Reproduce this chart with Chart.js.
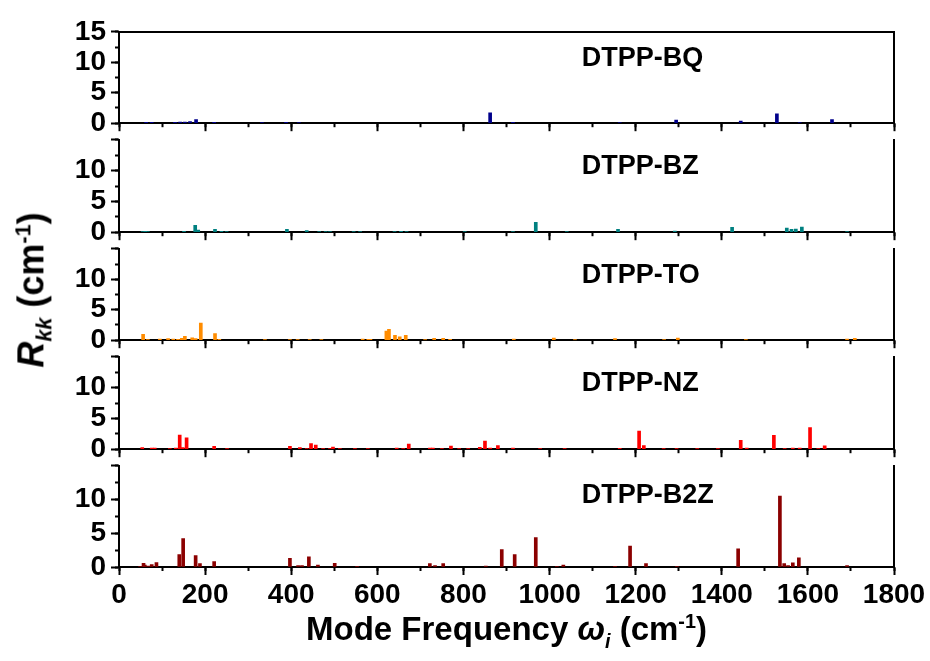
<!DOCTYPE html>
<html>
<head>
<meta charset="utf-8">
<script src="https://cdn.jsdelivr.net/npm/chart.js@4.4.1/dist/chart.umd.min.js"></script>
<style>
  body { margin: 0; background: #fff; }
  #wrap { position: relative; width: 930px; height: 661px; overflow: hidden; font-family: Arial, "Liberation Sans", sans-serif; }
  #wrap canvas { position: absolute; left: 0; }
  .xtitle { position: absolute; left: 0; width: 1013px; top: 610px; text-align: center; font-weight: bold; font-size: 33px; white-space: nowrap; }
  .ytitle { position: absolute; left: 34px; top: 290px; transform: translate(-50%, -50%) rotate(-90deg); font-weight: bold; font-size: 36px; white-space: nowrap; }
  sub, sup { font-size: 60%; }
</style>
</head>
<body>
<div id="wrap">
  <canvas id="c0"></canvas>
  <canvas id="c1"></canvas>
  <canvas id="c2"></canvas>
  <canvas id="c3"></canvas>
  <canvas id="c4"></canvas>
  <div class="ytitle"><i>R</i><sub><i>kk</i></sub> (cm<sup>-1</sup>)</div>
  <div class="xtitle">Mode Frequency <i>&omega;</i><sub><i>i</i></sub> (cm<sup>-1</sup>)</div>
</div>
<script>
// panel names
const panelNames = ['DTPP-BQ', 'DTPP-BZ', 'DTPP-TO', 'DTPP-NZ', 'DTPP-B2Z'];
const panelColors = ['#00008B', '#008080', '#FF8C00', '#FF0000', '#8B0000'];

// mode frequencies (cm-1) and R_kk values
const bqFreq = [63, 76, 130, 142, 153, 165, 179, 221, 332, 388, 418, 862, 915, 1163, 1294, 1444, 1528, 1581, 1656];
const bqVal  = [0.15, 0.15, 0.15, 0.2, 0.2, 0.25, 0.6, 0.15, 0.1, 0.15, 0.1, 1.7, 0.15, 0.1, 0.5, 0.35, 1.55, 0.1, 0.6];

const bzFreq = [55, 61, 67, 151, 177, 184, 223, 238, 250, 390, 436, 465, 480, 490, 545, 560, 640, 655, 668, 803, 915, 968, 1040, 1159, 1291, 1424, 1551, 1562, 1572, 1586, 1691];
const bzVal  = [0.1, 0.15, 0.1, 0.15, 1.1, 0.35, 0.45, 0.15, 0.1, 0.45, 0.25, 0.1, 0.1, 0.1, 0.05, 0.05, 0.1, 0.15, 0.1, 0.1, 0.1, 1.6, 0.1, 0.45, 0.2, 0.8, 0.65, 0.45, 0.5, 0.85, 0.1];

const toFreq = [56, 67, 95, 114, 126, 137, 146, 153, 170, 178, 190, 223, 233, 339, 397, 415, 443, 470, 566, 579, 584, 621, 627, 641, 652, 666, 711, 732, 753, 769, 917, 1010, 1059, 1152, 1266, 1298, 1456, 1691, 1709];
const toVal  = [0.95, 0.1, 0.2, 0.25, 0.2, 0.15, 0.3, 0.65, 0.4, 0.25, 2.8, 1.1, 0.15, 0.05, 0.1, 0.1, 0.1, 0.1, 0.2, 0.15, 0.15, 1.5, 1.8, 0.8, 0.55, 0.8, 0.05, 0.3, 0.3, 0.15, 0.2, 0.35, 0.05, 0.25, 0.1, 0.35, 0.05, 0.2, 0.3];

const nzFreq = [54, 76, 83, 118, 132, 141, 148, 157, 221, 251, 397, 420, 436, 446, 457, 474, 490, 497, 513, 548, 578, 645, 660, 673, 722, 729, 750, 771, 790, 811, 838, 850, 862, 880, 915, 978, 1035, 1163, 1208, 1219, 1265, 1295, 1343, 1391, 1444, 1458, 1521, 1546, 1565, 1581, 1605, 1624, 1639];
const nzVal  = [0.25, 0.2, 0.2, 0.05, 0.2, 2.3, 0.25, 1.85, 0.45, 0.05, 0.45, 0.25, 0.1, 0.9, 0.65, 0.1, 0.1, 0.35, 0.1, 0.05, 0.1, 0.2, 0.1, 0.85, 0.2, 0.2, 0.1, 0.5, 0.05, 0.05, 0.3, 1.3, 0.2, 0.6, 0.2, 0.1, 0.1, 0.15, 2.95, 0.6, 0.05, 0.05, 0.05, 0.05, 1.45, 0.2, 2.25, 0.1, 0.2, 0.2, 3.5, 0.1, 0.55];

const b2zFreq = [49, 57, 60, 68, 76, 87, 140, 149, 178, 188, 221, 397, 416, 425, 441, 462, 501, 553, 722, 734, 753, 852, 889, 919, 968, 1017, 1032, 1152, 1187, 1224, 1296, 1438, 1535, 1545, 1554, 1565, 1579, 1691];
const b2zVal  = [0.1, 0.55, 0.3, 0.15, 0.35, 0.65, 1.85, 4.2, 1.7, 0.5, 0.8, 1.3, 0.2, 0.2, 1.5, 0.3, 0.55, 0.1, 0.5, 0.2, 0.5, 0.15, 2.6, 1.85, 4.35, 0.1, 0.3, 0.1, 3.1, 0.5, 0.1, 2.7, 10.5, 0.5, 0.2, 0.6, 1.35, 0.2];

const allFreq = [bqFreq, bzFreq, toFreq, nzFreq, b2zFreq];
const allVal = [bqVal, bzVal, toVal, nzVal, b2zVal];

// axis ranges / ticks
const xMin = 0, xMax = 1800, xMajor = 200, xMinor = 100;
const yMin = 0, yMax = 15, yMajor = 5, yMinor = 2.5;

// layout of the panel stack (pixels)
const plotLeft = 119, plotRight = 894;
const panelTops = [25, 133, 242, 350, 459, 567];
const padTop = 15;
const tickFont = { family: 'Arial, "Liberation Sans", sans-serif', size: 28, weight: 'bold' };

// draws the "DTPP-xx" name inside each panel
const panelLabel = {
    id: 'panelLabel',
    afterDatasetsDraw(chart, args, opts) {
        const { ctx, scales } = chart;
        ctx.save();
        ctx.font = 'bold 27px Arial, "Liberation Sans", sans-serif';
        ctx.fillStyle = '#000';
        ctx.textBaseline = 'middle';
        ctx.fillText(opts.text, scales.x.getPixelForValue(1075), scales.y.getPixelForValue(10.6));
        ctx.restore();
    }
};

function makePanel(i) {
    const isTop = i === 0;
    const isBottom = i === 4;
    const h = panelTops[i + 1] - panelTops[i];
    const xh = isBottom ? 50 : 12;
    const canvas = document.getElementById('c' + i);
    canvas.width = 930;
    canvas.height = padTop + h + xh;
    canvas.style.top = (panelTops[i] - padTop) + 'px';

    const points = allFreq[i].map((f, k) => ({ x: f, y: allVal[i][k] }));

    const scales = {
        x: {
            type: 'linear', position: 'bottom', weight: 1,
            min: xMin, max: xMax, offset: false,
            ticks: {
                stepSize: xMajor, display: isBottom, font: tickFont, color: '#000', padding: 3,
                maxRotation: 0, autoSkip: false, callback: v => String(v)
            },
            grid: { offset: false, drawOnChartArea: false, tickLength: 8, tickWidth: 2, tickColor: '#000' },
            border: { color: '#000', width: 2 },
            afterFit: s => { s.height = xh; }
        },
        xMinor: {
            type: 'linear', position: 'bottom', weight: 0,
            min: xMin, max: xMax, offset: false,
            ticks: { stepSize: xMinor, display: false, autoSkip: false },
            grid: { offset: false, drawOnChartArea: false, tickLength: 4, tickWidth: 2, tickColor: '#000' },
            border: { display: false },
            afterFit: s => { s.height = 0; }
        },
        y: {
            position: 'left', weight: 1, min: yMin, max: yMax,
            ticks: {
                stepSize: yMajor, font: tickFont, color: '#000', padding: 5, autoSkip: false,
                callback: v => (v === yMax && !isTop) ? '' : String(v)
            },
            grid: { drawOnChartArea: false, tickLength: 8, tickWidth: 2, tickColor: '#000' },
            border: { color: '#000', width: 2 },
            afterFit: s => { s.width = plotLeft; }
        },
        yMinor: {
            position: 'left', weight: 0, min: yMin, max: yMax,
            ticks: { stepSize: yMinor, display: false, autoSkip: false },
            grid: { drawOnChartArea: false, tickLength: 4, tickWidth: 2, tickColor: '#000' },
            border: { display: false },
            afterFit: s => { s.width = 0; }
        },
        yRight: {
            position: 'right', min: yMin, max: yMax,
            ticks: { display: false },
            grid: { display: false },
            border: { color: '#000', width: 2 },
            afterFit: s => { s.width = 0; }
        }
    };
    if (isTop) {
        scales.xTop = {
            type: 'linear', position: 'top', min: xMin, max: xMax,
            ticks: { display: false },
            grid: { display: false },
            border: { color: '#000', width: 2 },
            afterFit: s => { s.height = 0; }
        };
    }

    return new Chart(canvas.getContext('2d'), {
        type: 'bar',
        data: {
            datasets: [{
                label: panelNames[i],
                data: points,
                backgroundColor: panelColors[i],
                borderWidth: 0,
                barThickness: 3
            }]
        },
        options: {
            responsive: false,
            animation: false,
            devicePixelRatio: 1,
            layout: { padding: { top: padTop, left: 0, right: 930 - plotRight, bottom: 0 } },
            plugins: {
                legend: { display: false },
                tooltip: { enabled: false },
                panelLabel: { text: panelNames[i] }
            },
            scales: scales
        },
        plugins: [panelLabel]
    });
}

for (let i = 0; i < 5; i++) makePanel(i);
</script>
</body>
</html>
